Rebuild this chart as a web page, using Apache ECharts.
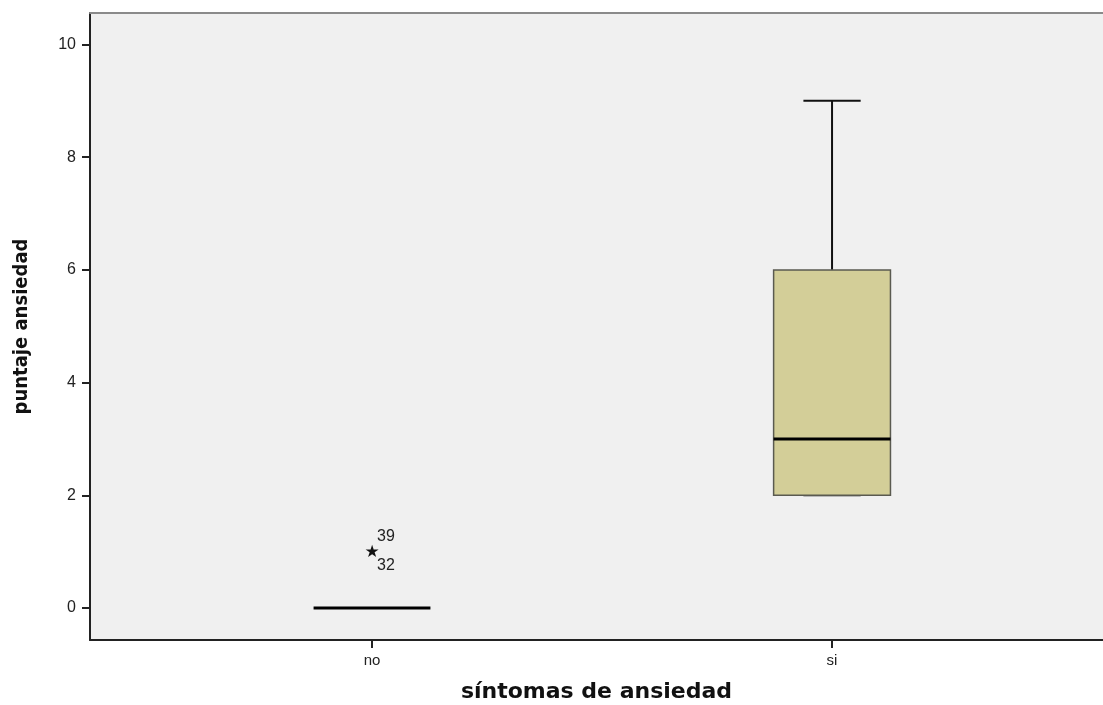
<!DOCTYPE html>
<html>
<head>
<meta charset="utf-8">
<script src="https://cdn.jsdelivr.net/npm/echarts@6/dist/echarts.min.js"></script>
<style>html,body{margin:0;padding:0;background:#fff}#c{width:1103px;height:705px}</style>
</head>
<body>
<div id="c"></div>
<script>
// ---- data ----
const categories = ['no', 'si'];
const whiskerLow = [0, 2];
const q1 = [0, 2];
const median = [0, 3];
const q3 = [0, 6];
const whiskerHigh = [0, 9];
const outlierCategory = [0];
const outlierValue = [1];
const outlierLabelsAbove = ['39'];
const outlierLabelsBelow = ['32'];
const yTicks = [0, 2, 4, 6, 8, 10];

const boxData = categories.map((c, i) => [i + 1, whiskerLow[i], q1[i], median[i], q3[i], whiskerHigh[i]]);
const outlierData = outlierCategory.map((c, i) => [c + 1, outlierValue[i], i]);

const chart = echarts.init(document.getElementById('c'), null, {renderer: 'canvas'});

function renderBox(params, api) {
  const x = api.value(0);
  const lo = api.coord([x, api.value(1)]);
  const b1 = api.coord([x, api.value(2)]);
  const md = api.coord([x, api.value(3)]);
  const b3 = api.coord([x, api.value(4)]);
  const hi = api.coord([x, api.value(5)]);
  const unit = api.size([1, 0])[0];
  const bw = unit * 0.254;
  const cw = bw * 0.49;
  const cx = lo[0];
  const children = [];
  const hasBox = Math.abs(b1[1] - b3[1]) > 0.5;
  if (Math.abs(hi[1] - b3[1]) > 0.5) {
    children.push({type: 'line', shape: {x1: cx, y1: b3[1], x2: cx, y2: hi[1]}, style: {stroke: '#111', lineWidth: 2}});
    children.push({type: 'line', shape: {x1: cx - cw / 2, y1: hi[1], x2: cx + cw / 2, y2: hi[1]}, style: {stroke: '#111', lineWidth: 2}});
  }
  if (Math.abs(lo[1] - b1[1]) > 0.5) {
    children.push({type: 'line', shape: {x1: cx, y1: lo[1], x2: cx, y2: b1[1]}, style: {stroke: '#111', lineWidth: 2}});
  }
  if (hasBox) {
    children.push({type: 'line', shape: {x1: cx - cw / 2, y1: lo[1], x2: cx + cw / 2, y2: lo[1]}, style: {stroke: '#111', lineWidth: 2}});
    children.push({type: 'rect', shape: {x: cx - bw / 2, y: b3[1], width: bw, height: b1[1] - b3[1]},
      style: {fill: '#d3ce98', stroke: '#5a5a50', lineWidth: 1.5}});
  }
  children.push({type: 'line', shape: {x1: cx - bw / 2, y1: md[1], x2: cx + bw / 2, y2: md[1]}, style: {stroke: '#000', lineWidth: 3}});
  return {type: 'group', children};
}

function renderOutlier(params, api) {
  const p = api.coord([api.value(0), api.value(1)]);
  const idx = api.value(2);
  return {type: 'group', children: [
    {type: 'text', x: p[0], y: p[1] + 1, style: {text: '\u2605', fill: '#111', font: '17px "DejaVu Sans"', align: 'center', verticalAlign: 'middle'}},
    {type: 'text', x: p[0] + 5, y: p[1] - 15, style: {text: outlierLabelsAbove[idx], fill: '#222', font: '16px "Liberation Sans", Arial', align: 'left', verticalAlign: 'middle'}},
    {type: 'text', x: p[0] + 5, y: p[1] + 14, style: {text: outlierLabelsBelow[idx], fill: '#222', font: '16px "Liberation Sans", Arial', align: 'left', verticalAlign: 'middle'}}
  ]};
}

chart.setOption({
  animation: false,
  backgroundColor: '#ffffff',
  grid: {left: 90, right: 0, top: 13, bottom: 65, backgroundColor: '#f0f0f0', show: true, borderWidth: 0,
    containLabel: false, outerBoundsMode: 'none'},
  xAxis: [{
    type: 'value', min: 0.387, max: 2.589,
    name: 'síntomas de ansiedad', nameLocation: 'middle', nameGap: 41,
    nameTextStyle: {fontFamily: 'DejaVu Sans', fontWeight: 'bold', fontSize: 22, color: '#111'},
    splitLine: {show: false},
    axisLine: {show: true, onZero: false, lineStyle: {color: '#222', width: 2}},
    axisTick: {show: true, length: 8, customValues: [1, 2], lineStyle: {color: '#222', width: 2}},
    axisLabel: {customValues: [1, 2], formatter: v => categories[Math.round(v) - 1] || '', margin: 13,
      fontFamily: 'Liberation Sans', fontSize: 15, color: '#222'}
  }, {
    type: 'value', position: 'top', min: 0.387, max: 2.589,
    axisLine: {show: true, onZero: false, lineStyle: {color: '#8a8a8a', width: 2}},
    axisTick: {show: false}, axisLabel: {show: false}, splitLine: {show: false}
  }],
  yAxis: {
    type: 'value', min: -0.568, max: 10.559,
    name: 'puntaje ansiedad', nameLocation: 'middle', nameGap: 58,
    nameTextStyle: {fontFamily: 'DejaVu Sans Condensed', fontWeight: 'bold', fontSize: 20, color: '#111'},
    splitLine: {show: false},
    axisLine: {show: true, onZero: false, lineStyle: {color: '#222', width: 2}},
    axisTick: {show: true, length: 8, customValues: yTicks, lineStyle: {color: '#222', width: 2}},
    axisLabel: {customValues: yTicks, margin: 14, fontFamily: 'Liberation Sans', fontSize: 16, color: '#222'}
  },
  series: [{
    type: 'custom', renderItem: renderBox, data: boxData, encode: {x: 0, y: [1, 2, 3, 4, 5]}, clip: false
  }, {
    type: 'custom', renderItem: renderOutlier, data: outlierData, encode: {x: 0, y: 1}
  }]
});
</script>
</body>
</html>
